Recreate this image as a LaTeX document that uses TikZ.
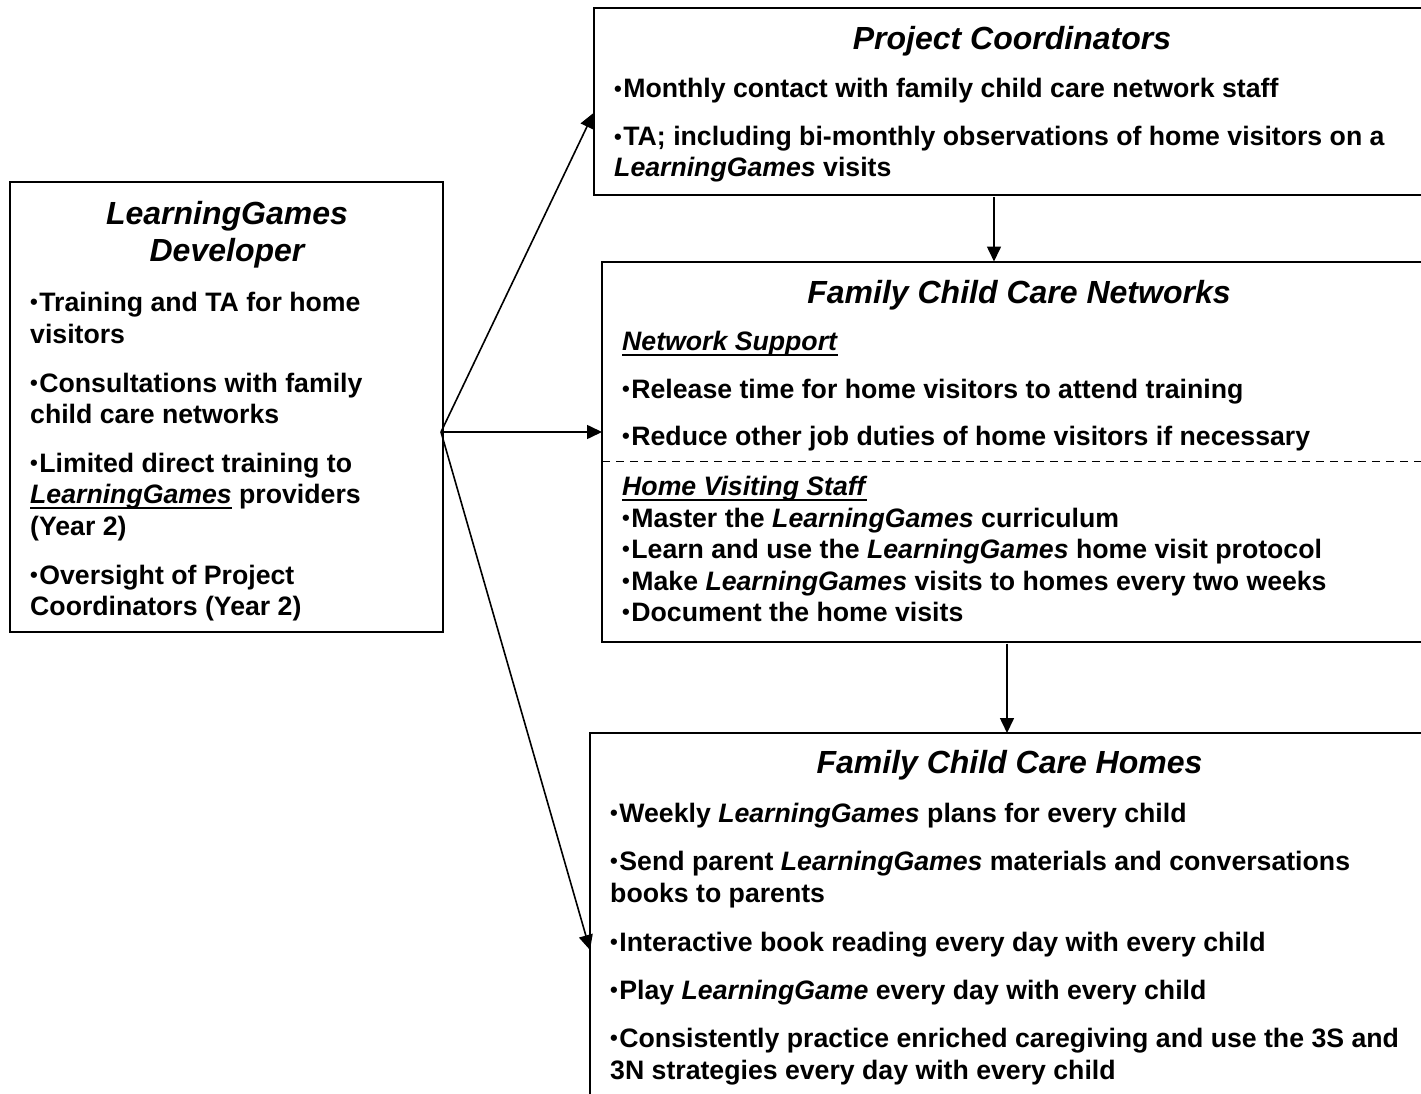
\documentclass[tikz,border=0pt]{standalone}
\usepackage{fontspec}
\setmainfont{Liberation Sans}
\usetikzlibrary{arrows.meta}
\newcommand\myul[1]{\setbox0\hbox{#1}\rlap{\rule[-5.5pt]{\wd0}{2pt}}\box0\relax}
\newcommand\LG{\textit{LearningGames}}
\newcommand\bul{\raisebox{1.8pt}{\fontsize{22}{22}\selectfont•}\kern1.5pt}
\begin{document}
\begin{tikzpicture}[x=1pt,y=1pt,
  box/.style={draw=black, line width=2pt, anchor=north west, inner sep=0, outer sep=0},
  tx/.style={anchor=base west, inner sep=0, font=\bfseries\fontsize{26.67}{32}\selectfont},
  ttl/.style={anchor=base, inner sep=0, font=\bfseries\itshape\fontsize{32}{38}\selectfont},
  arr/.style={line width=1.6pt, -{Triangle[length=15pt,width=14pt]}}]
\useasboundingbox (0,0) rectangle (1421,-1094);
\fill[white] (0,0) rectangle (1421,-1094);
\clip (0,0) rectangle (1421,-1094);

% boxes
\node[box, minimum width=433pt, minimum height=450pt] (dev) at (10,-182) {};
\node[box, minimum width=840pt, minimum height=187pt] (coord) at (593.5,-8) {};
\node[box, minimum width=830pt, minimum height=380pt] (net) at (602,-261.5) {};
\node[box, minimum width=845pt, minimum height=400pt] (homes) at (590,-733) {};
\draw[line width=1.8pt, dash pattern=on 8pt off 6pt] (net.west |- 0,-461.5) -- (net.east |- 0,-461.5);

% developer text
\node[ttl] (devt1) at (227,-224) {LearningGames};
\node[ttl] (devt2) at (227,-261) {Developer};
\node[tx] (d1) at (30,-311.5) {\bul Training and TA for home};
\node[tx] (d2) at (30,-343) {visitors};
\node[tx] (d3) at (30,-392) {\bul Consultations with family};
\node[tx] (d4) at (30,-423) {child care networks};
\node[tx] (d5) at (30,-472) {\bul Limited direct training to};
\node[tx] (d6) at (30,-503.5) {\myul{\LG} providers};
\node[tx] (d7) at (30,-535) {(Year 2)};
\node[tx] (d8) at (30,-584) {\bul Oversight of Project};
\node[tx] (d9) at (30,-615.5) {Coordinators (Year 2)};

% coordinators text
\node[ttl] (coordt) at (1012,-50) {Project Coordinators};
\node[tx] (c1) at (614,-98) {\bul Monthly contact with family child care network staff};
\node[tx] (c2) at (614,-146) {\bul TA; including bi-monthly observations of home visitors on a};
\node[tx] (c3) at (614,-177) {\LG{} visits};

% networks text
\node[ttl] (nett) at (1019,-303) {Family Child Care Networks};
\node[tx] (n1) at (622,-350) {\myul{\textit{Network Support}}};
\node[tx] (n2) at (622,-398) {\bul Release time for home visitors to attend training};
\node[tx] (n3) at (622,-445.5) {\bul Reduce other job duties of home visitors if necessary};
\node[tx] (n4) at (622,-495) {\myul{\textit{Home Visiting Staff}}};
\node[tx] (n5) at (622,-527) {\bul Master the \LG{} curriculum};
\node[tx] (n6) at (622,-558.5) {\bul Learn and use the \LG{} home visit protocol};
\node[tx] (n7) at (622,-590) {\bul Make \LG{} visits to homes every two weeks};
\node[tx] (n8) at (622,-621.5) {\bul Document the home visits};

% homes text
\node[ttl] (homest) at (1009.5,-773) {Family Child Care Homes};
\node[tx] (h1) at (610,-822) {\bul Weekly \LG{} plans for every child};
\node[tx] (h2) at (610,-870.5) {\bul Send parent \LG{} materials and conversations};
\node[tx] (h3) at (610,-902) {books to parents};
\node[tx] (h4) at (610,-951.5) {\bul Interactive book reading every day with every child};
\node[tx] (h5) at (610,-999.5) {\bul Play \textit{LearningGame} every day with every child};
\node[tx] (h6) at (610,-1047.5) {\bul Consistently practice enriched caregiving and use the 3S and};
\node[tx] (h7) at (610,-1079) {3N strategies every day with every child};

% connectors
\coordinate (hub) at ([xshift=-2pt,yshift=-25pt]dev.east);
\draw[arr] (hub) -- ([yshift=-11.5pt]coord.west);
\draw[arr] (hub) -- (hub -| net.west);
\draw[arr] (hub) -- ([yshift=-17pt]homes.west);
\coordinate (v1) at (994,0);
\coordinate (v2) at (1007,0);
\draw[arr] ([yshift=-2pt]coord.south -| v1) -- (net.north -| v1);
\draw[arr] ([yshift=-2pt]net.south -| v2) -- (homes.north -| v2);
\end{tikzpicture}
\end{document}
